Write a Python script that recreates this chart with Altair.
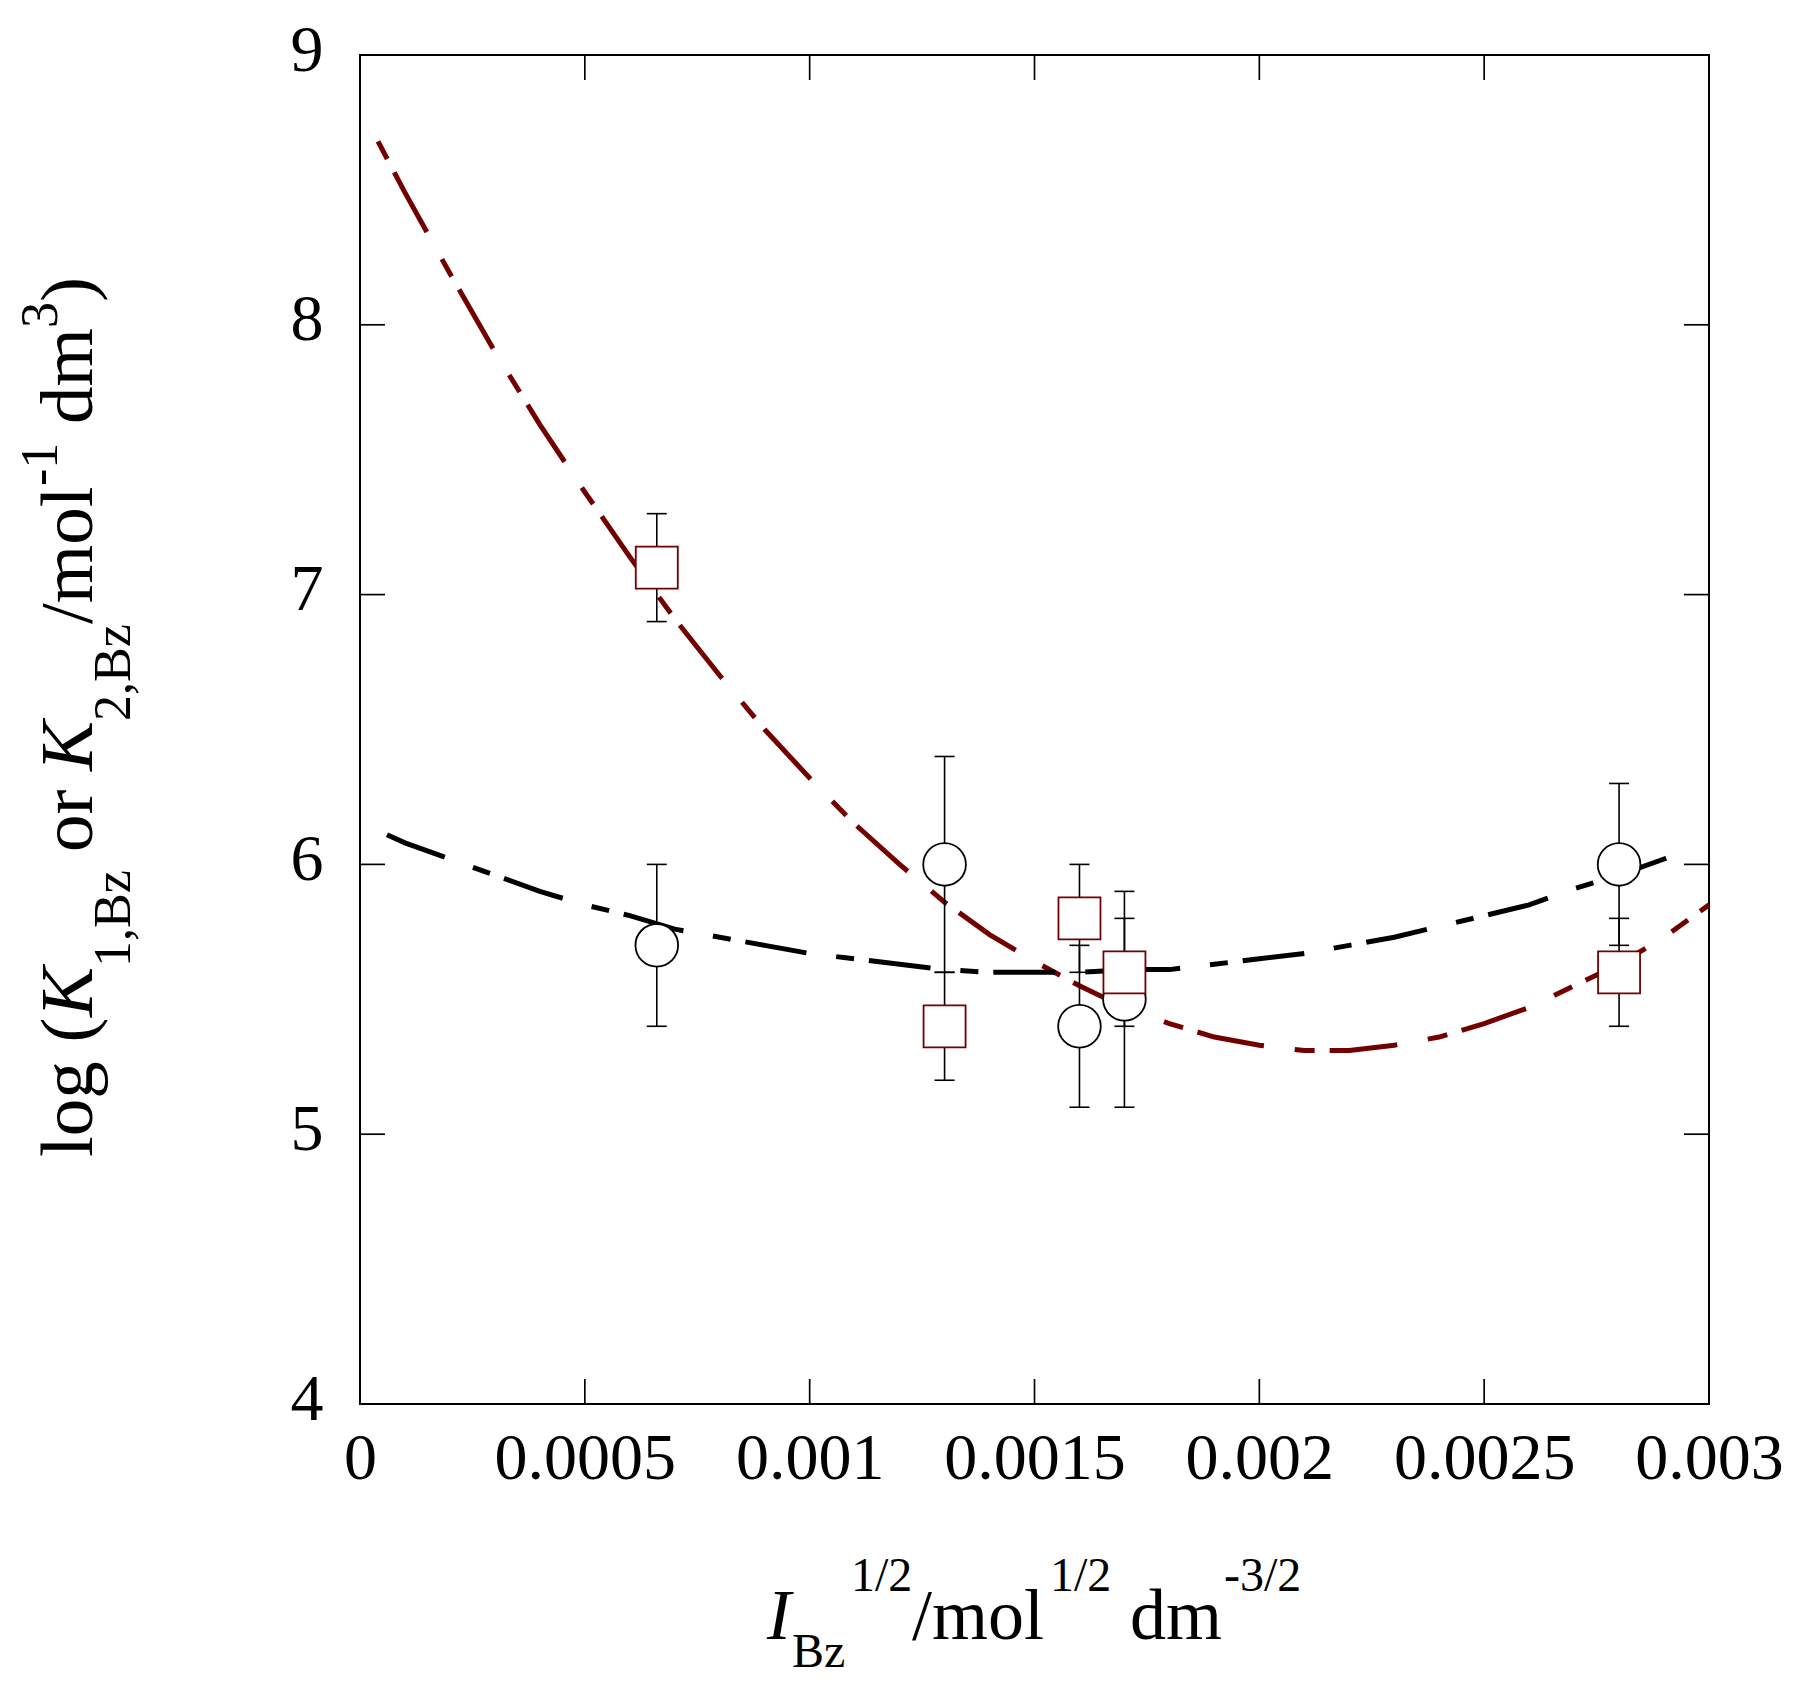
import altair as alt
import pandas as pd

# ---------------- data ----------------
# open circles (K1,Bz)
circ_x = [0.00066, 0.0013, 0.0016, 0.0017, 0.0028]
circ_y = [5.7, 6.0, 5.4, 5.5, 6.0]
circ_err = [0.3, 0.4, 0.3, 0.4, 0.3]

# open squares (K2,Bz)
sq_x = [0.00066, 0.0013, 0.0016, 0.0017, 0.0028]
sq_y = [7.1, 5.4, 5.8, 5.6, 5.6]
sq_err = [0.2, 0.2, 0.2, 0.2, 0.2]

# dashed fit curves
red_x = [0.00004, 0.0001, 0.0002, 0.0003, 0.0004, 0.0005, 0.0006, 0.0007, 0.0008,
         0.0009, 0.0010, 0.0011, 0.0012, 0.0013, 0.0014, 0.0015, 0.0016, 0.0017,
         0.0018, 0.0019, 0.0020, 0.0021, 0.0022, 0.0023, 0.0024, 0.0025, 0.0026,
         0.0027, 0.0028, 0.0029, 0.0030]
red_y = [8.68, 8.49, 8.19, 7.90, 7.63, 7.38, 7.14, 6.91, 6.70,
         6.50, 6.32, 6.15, 6.00, 5.86, 5.74, 5.64, 5.55, 5.47,
         5.41, 5.36, 5.33, 5.31, 5.31, 5.33, 5.36, 5.41, 5.47,
         5.55, 5.63, 5.73, 5.85]

blk_x = [0.00006, 0.0001, 0.0002, 0.0003, 0.0004, 0.0005, 0.0006, 0.0007, 0.0008,
         0.0009, 0.0010, 0.0011, 0.0012, 0.0013, 0.0014, 0.0015, 0.0016, 0.0017,
         0.0018, 0.0019, 0.0020, 0.0021, 0.0022, 0.0023, 0.0024, 0.0025, 0.0026,
         0.0027, 0.0028, 0.0029, 0.00296]
blk_y = [6.11, 6.08, 6.02, 5.96, 5.90, 5.85, 5.81, 5.76, 5.73,
         5.70, 5.67, 5.65, 5.63, 5.61, 5.60, 5.60, 5.60, 5.61,
         5.61, 5.63, 5.65, 5.67, 5.70, 5.73, 5.77, 5.81, 5.85,
         5.91, 5.96, 6.02, 6.06]

x_ticks = [0, 0.0005, 0.001, 0.0015, 0.002, 0.0025, 0.003]
y_ticks = [4, 5, 6, 7, 8, 9]

# ---------------- styling ----------------
W = 1349
H = 1349
FONT = "Liberation Serif"
RED = "#730000"
TICK = 25

xs = alt.Scale(domain=[0, 0.003], nice=False, zero=False)
ys = alt.Scale(domain=[4, 9], nice=False, zero=False)

x_axis = alt.Axis(values=x_ticks, format="~g", title=None, grid=False, domain=False,
                  ticks=False, tickSize=0, labelFont=FONT, labelFontSize=66,
                  labelColor="black", labelBaseline="alphabetic", labelPadding=74,
                  labelFlush=False, labelOverlap=False, labelBound=False,
                  labelLimit=0)
y_axis = alt.Axis(values=y_ticks, format="d", title=None, grid=False, domain=False,
                  ticks=False, tickSize=0, labelFont=FONT, labelFontSize=66,
                  labelColor="black", labelBaseline="alphabetic", labelAlign="right",
                  labelPadding=37, labelOffset=15, labelFlush=False,
                  labelOverlap=False, labelBound=False, labelLimit=0)


def XQ(f):
    return alt.X(f, type="quantitative", scale=xs, axis=x_axis)


def YQ(f):
    return alt.Y(f, type="quantitative", scale=ys, axis=y_axis)


circ = pd.DataFrame({"x": circ_x, "y": circ_y, "e": circ_err})
circ["lo"] = circ["y"] - circ["e"]
circ["hi"] = circ["y"] + circ["e"]
sq = pd.DataFrame({"x": sq_x, "y": sq_y, "e": sq_err})
sq["lo"] = sq["y"] - sq["e"]
sq["hi"] = sq["y"] + sq["e"]
red = pd.DataFrame({"x": red_x, "y": red_y})
blk = pd.DataFrame({"x": blk_x, "y": blk_y})
xt = pd.DataFrame({"v": x_ticks})
yt = pd.DataFrame({"v": y_ticks})

red_line = alt.Chart(red).mark_line(color=RED, strokeWidth=5,
                                    strokeDash=[68, 31, 20, 15],
                                    strokeDashOffset=99).encode(
    x=XQ("x"), y=YQ("y"), order="x:Q")
blk_line = alt.Chart(blk).mark_line(color="black", strokeWidth=5,
                                    strokeDash=[62, 30, 18, 15]).encode(
    x=XQ("x"), y=YQ("y"), order="x:Q")

xt_bot = alt.Chart(xt).mark_rule(color="black", strokeWidth=1.7).encode(
    x=XQ("v"), y=alt.value(H), y2=alt.value(H - TICK))
xt_top = alt.Chart(xt).mark_rule(color="black", strokeWidth=1.7).encode(
    x=XQ("v"), y=alt.value(0), y2=alt.value(TICK))
yt_left = alt.Chart(yt).mark_rule(color="black", strokeWidth=1.7).encode(
    y=YQ("v"), x=alt.value(0), x2=alt.value(TICK))
yt_right = alt.Chart(yt).mark_rule(color="black", strokeWidth=1.7).encode(
    y=YQ("v"), x=alt.value(W), x2=alt.value(W - TICK))


def err_layers(df):
    bar = alt.Chart(df).mark_rule(color="black", strokeWidth=1.6).encode(
        x=XQ("x"), y=YQ("lo"), y2="hi:Q")
    cap_lo = alt.Chart(df).mark_rule(color="black", strokeWidth=1.6,
                                     xOffset=-10, x2Offset=10).encode(
        x=XQ("x"), x2="x:Q", y=YQ("lo"))
    cap_hi = alt.Chart(df).mark_rule(color="black", strokeWidth=1.6,
                                     xOffset=-10, x2Offset=10).encode(
        x=XQ("x"), x2="x:Q", y=YQ("hi"))
    return [bar, cap_lo, cap_hi]


circles = alt.Chart(circ).mark_point(shape="circle", filled=True, fill="white",
                                     stroke="black", strokeWidth=1.8, size=1820,
                                     opacity=1).encode(x=XQ("x"), y=YQ("y"))
squares = alt.Chart(sq).mark_point(shape="square", filled=True, fill="white",
                                   stroke=RED, strokeWidth=1.8, size=1764,
                                   opacity=1).encode(x=XQ("x"), y=YQ("y"))


def txt(s, x, y, size, italic=False, angle=0):
    return alt.Chart(pd.DataFrame({"t": [s]})).mark_text(
        align="left", baseline="alphabetic", font=FONT, fontSize=size,
        fontStyle="italic" if italic else "normal", angle=angle, color="black"
    ).encode(text="t:N", x=alt.value(x), y=alt.value(y))


# y-axis title: log (K1,Bz or K2,Bz/mol-1 dm3), rotated
YM, YS, YP = -268, -230, -303
ytitle = [
    txt("log (", YM, 1102, 75, angle=270),
    txt("K", YM, 962, 75, italic=True, angle=270),
    txt("1,Bz", YS, 912, 52, angle=270),
    txt("or", YM, 797, 75, angle=270),
    txt("K", YM, 716, 75, italic=True, angle=270),
    txt("2,Bz", YS, 666, 52, angle=270),
    txt("/mol", YM, 569, 75, angle=270),
    txt("-1", YP, 431, 52, angle=270),
    txt("dm", YM, 369, 75, angle=270),
    txt("3", YP, 273, 52, angle=270),
    txt(")", YM, 247, 75, angle=270),
]

# x-axis title: I_Bz^(1/2)/mol^(1/2) dm^(-3/2)
XM, XS, XP = 1584, 1612, 1536
xtitle = [
    txt("I", 407, XM, 72, italic=True),
    txt("Bz", 432, XS, 48),
    txt("1/2", 491, XP, 48),
    txt("/mol", 552, XM, 72),
    txt("1/2", 690, XP, 48),
    txt("dm", 770, XM, 72),
    txt("-3/2", 864, XP, 48),
]

layers = [red_line, blk_line, xt_bot, xt_top, yt_left, yt_right]
layers += err_layers(circ) + err_layers(sq)
layers += [circles, squares]
layers += ytitle + xtitle

chart = alt.layer(*layers).properties(
    width=W, height=H,
    padding={"left": 352, "top": 47, "right": 82, "bottom": 276},
    autosize=alt.AutoSizeParams(type="none"),
    background="white",
).configure_view(stroke="black", strokeWidth=2)

chart.save("out.html", embed_options={"renderer": "svg", "actions": False})
